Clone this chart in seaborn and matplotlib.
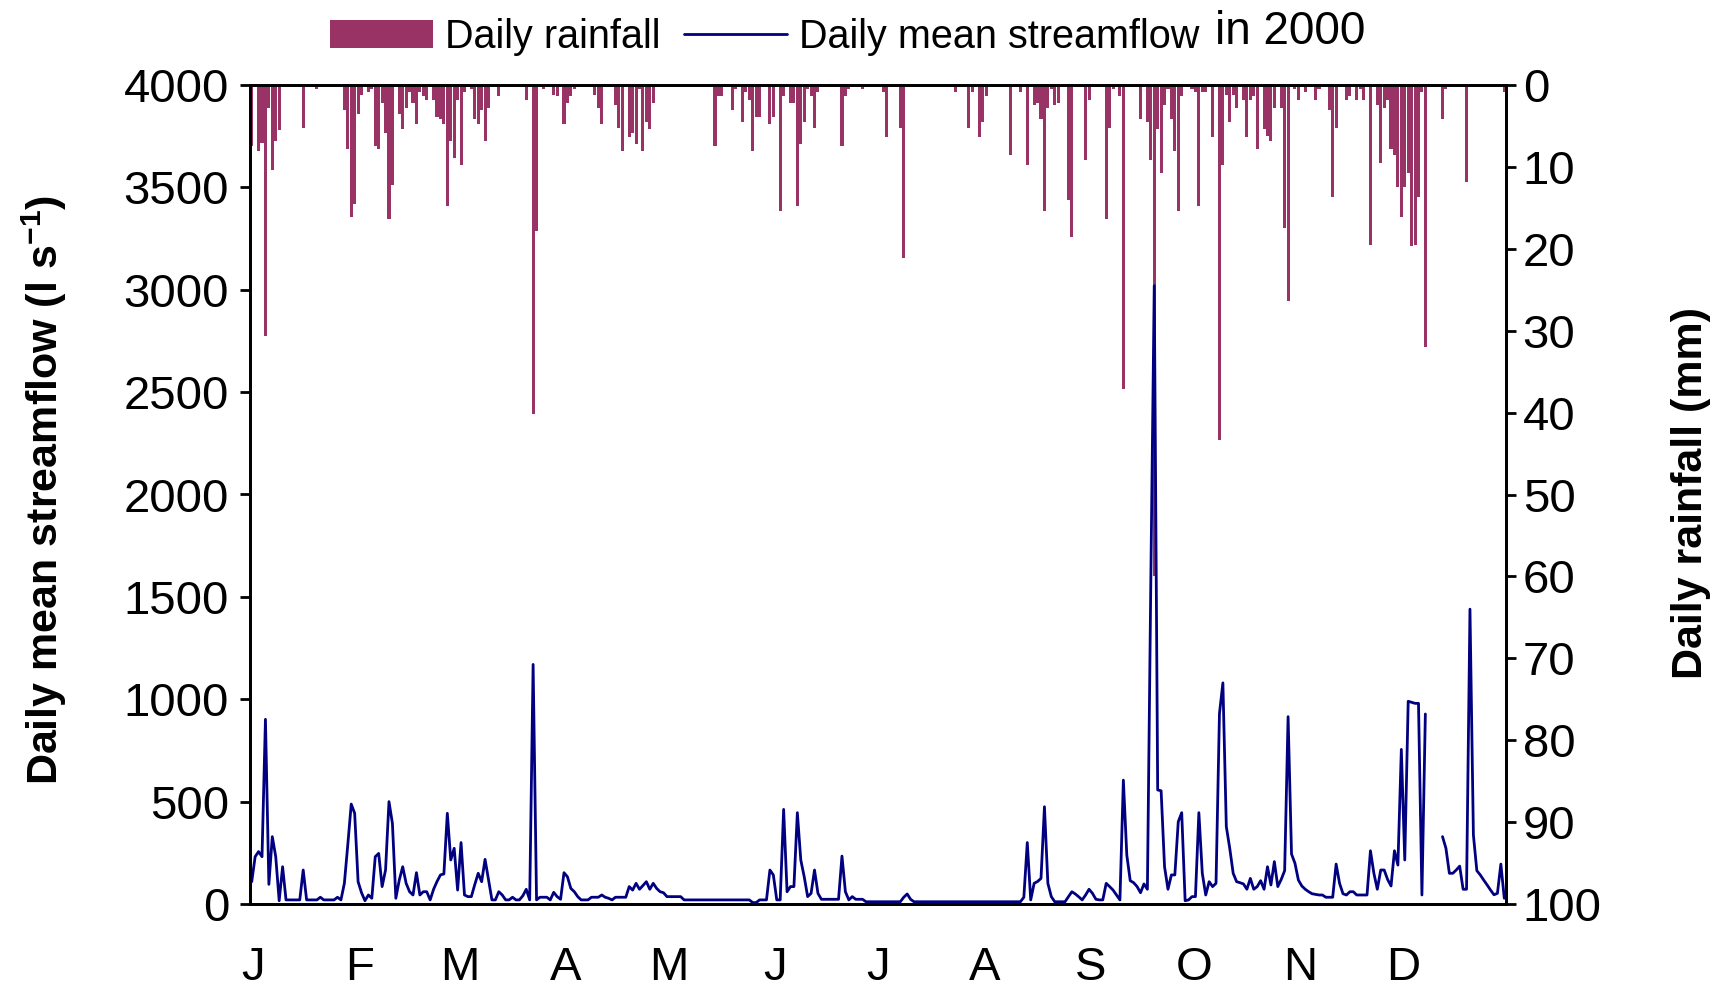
import numpy as np
import pandas as pd
import matplotlib
matplotlib.use("Agg")
import matplotlib.pyplot as plt
from matplotlib.patches import Patch
from matplotlib.lines import Line2D
import seaborn as sns

# ---------------- data ----------------
months = ["J", "F", "M", "A", "M", "J", "J", "A", "S", "O", "N", "D"]
month_days = [31, 29, 31, 30, 31, 30, 31, 31, 30, 31, 30, 31]

# Daily rainfall (mm), 2000
rain_jan = [7.5, 0, 8.1, 7.1, 30.7, 2.8, 10.4, 6.8, 5.5, 0, 0, 0.3, 0, 0, 0.3, 5.2, 0, 0, 0, 0.5,
            0.3, 0, 0, 0, 0.3, 0, 0.3, 3.1, 7.8, 16.1, 14.5]
rain_feb = [3.5, 1.2, 0, 0.8, 0.5, 7.5, 7.8, 2.2, 5.8, 16.4, 12.2, 0.2, 3.5, 5.4, 2.8, 0.8, 2.2,
            4.8, 0.8, 1.4, 1.8, 0.2, 1.8, 3.9, 4.1, 4.8, 14.8, 6.8, 8.9]
rain_mar = [1.8, 9.8, 0.8, 0.2, 0.5, 4.1, 4.8, 3.1, 6.8, 2.8, 0, 0, 1.4, 0, 0, 0.2, 0.2, 0, 0, 0,
            1.8, 0.3, 40.2, 17.8, 0, 0.5, 0, 0.2, 1.2, 1.4, 0]
rain_apr = [4.8, 2.2, 1.4, 0.5, 0, 0, 0, 0, 0, 1.2, 2.8, 4.8, 0, 0.2, 0, 2.5, 5.2, 8.1, 0, 6.4,
            5.8, 7.2, 0.5, 8.1, 4.5, 5.4, 2.2, 0.2, 0, 0]
rain_may = [0, 0, 0, 0, 0, 0, 0, 0, 0, 0, 0, 0, 0, 0, 7.5, 1.4, 1.4, 0.2, 0, 3.1, 0.5, 0, 4.5,
            0.8, 1.8, 8.1, 3.9, 3.9, 0.2, 0.2, 4.8]
rain_jun = [3.9, 0, 15.4, 1.4, 0, 2.2, 2.2, 14.8, 7.2, 4.5, 0.5, 1.4, 5.2, 0.8, 0.2, 0, 0, 0.2,
            0.2, 0, 7.5, 1.4, 0.5, 0, 0, 0, 0.5, 0, 0, 0]
rain_jul = [0, 0, 0.8, 6.4, 0, 0.2, 0.2, 5.2, 21.1, 0.2, 0, 0, 0, 0, 0, 0, 0, 0, 0, 0, 0, 0, 0,
            0.8, 0, 0.2, 0, 5.2, 0.8, 0, 6.4]
rain_aug = [4.5, 1.4, 0, 0.2, 0, 0.2, 0, 0, 8.5, 0, 0, 0.8, 0, 9.8, 0, 2.5, 2.2, 4.1, 15.4, 2.8,
            0.5, 2.5, 2.2, 0, 0.2, 14.1, 18.5, 0, 0, 0, 9.1]
rain_sep = [1.8, 0.2, 0, 0.2, 0, 16.4, 5.2, 0.5, 0, 1.4, 37.1, 0.2, 0, 0.2, 0, 4.1, 0, 4.5, 9.1,
            60.0, 5.4, 10.8, 2.5, 0.5, 4.1, 8.1, 15.4, 1.4, 0, 0]
rain_oct = [0.5, 0.8, 14.8, 0.8, 0.8, 0, 6.4, 0, 43.4, 9.8, 1.2, 4.5, 1.2, 2.8, 0, 1.8, 6.4, 1.8,
            1.4, 7.8, 0, 5.4, 6.2, 6.8, 2.8, 0.2, 2.8, 17.4, 26.4, 0, 0.5]
rain_nov = [1.8, 0, 0.8, 0, 0, 1.8, 0.5, 0.2, 0, 3.1, 13.7, 5.2, 0, 0, 1.8, 1.4, 0, 1.8, 0.5, 1.8,
            0, 19.5, 0.2, 2.5, 9.5, 2.8, 1.8, 7.8, 8.5, 12.4]
rain_dec = [16.1, 12.4, 10.8, 19.7, 19.5, 13.7, 0.8, 32.0, 0, 0, 0, 0, 4.1, 0.5, 0, 0, 0, 0, 0,
            11.8, 0, 0, 0, 0, 0, 0, 0, 0, 0, 0, 0.8]

# Daily mean streamflow (l/s), 2000  (nan = missing record)
nan = np.nan
flow_jan = [109, 231, 256, 231, 902, 96, 329, 231, 16, 182, 20, 20, 20, 20, 20, 166, 20, 20, 20,
            20, 33, 20, 20, 20, 20, 33, 20, 101, 290, 488, 443]
flow_feb = [109, 55, 16, 44, 28, 231, 247, 85, 166, 500, 394, 28, 117, 182, 101, 60, 44, 153, 44,
            60, 60, 20, 72, 110, 142, 147, 443, 215, 272]
flow_mar = [68, 300, 44, 36, 36, 95, 150, 109, 218, 120, 20, 20, 60, 44, 20, 20, 33, 20, 20, 40,
            72, 20, 1170, 20, 33, 33, 33, 20, 57, 36, 23]
flow_apr = [153, 133, 76, 60, 36, 20, 20, 20, 33, 33, 33, 44, 33, 28, 20, 33, 33, 33, 33, 85, 68,
            101, 72, 90, 109, 72, 101, 76, 60, 55]
flow_may = [36, 36, 36, 36, 36, 20, 20, 20, 20, 20, 20, 20, 20, 20, 20, 20, 20, 20, 20, 20, 20,
            20, 20, 20, 20, 7, 7, 20, 20, 20, 166]
flow_jun = [142, 20, 20, 462, 60, 85, 85, 446, 215, 133, 36, 52, 166, 52, 23, 23, 23, 23, 23, 23,
            234, 60, 20, 36, 23, 23, 23, 11, 11, 11]
flow_jul = [11, 11, 11, 11, 11, 11, 11, 11, 33, 49, 23, 11, 11, 11, 11, 11, 11, 11, 11, 11, 11,
            11, 11, 11, 11, 11, 11, 11, 11, 11, 11]
flow_aug = [11, 11, 11, 11, 11, 11, 11, 11, 11, 11, 11, 11, 33, 300, 20, 101, 110, 125, 475, 101,
            36, 11, 11, 11, 11, 36, 60, 49, 35, 20, 44]
flow_sep = [72, 52, 23, 20, 20, 101, 85, 68, 44, 20, 605, 239, 114, 104, 85, 55, 98, 72, 1580,
            3020, 557, 553, 182, 72, 142, 142, 402, 446, 16, 20]
flow_oct = [36, 36, 446, 150, 44, 109, 85, 101, 930, 1080, 378, 272, 150, 109, 104, 98, 72, 125,
            72, 85, 114, 72, 182, 93, 207, 85, 120, 163, 915, 244, 199]
flow_nov = [117, 88, 72, 60, 50, 47, 44, 44, 33, 33, 33, 195, 101, 50, 44, 60, 60, 44, 44, 44, 44,
            260, 150, 72, 166, 166, 120, 88, 260, 190]
flow_dec = [755, 215, 990, 985, 980, 980, 44, 928, nan, nan, nan, nan, 329, 272, 150, 150, 166,
            185, 72, 72, 1440, 337, 163, 142, 117, 93, 68, 45, 52, 195, 28]

# ---------------- assemble ----------------
rain = np.concatenate([rain_jan, rain_feb, rain_mar, rain_apr, rain_may, rain_jun,
                       rain_jul, rain_aug, rain_sep, rain_oct, rain_nov, rain_dec]).astype(float)
flow = np.concatenate([flow_jan, flow_feb, flow_mar, flow_apr, flow_may, flow_jun,
                       flow_jul, flow_aug, flow_sep, flow_oct, flow_nov, flow_dec]).astype(float)
n_days = sum(month_days)
assert len(rain) == n_days and len(flow) == n_days, (len(rain), len(flow))

day = np.arange(n_days)
seg = np.cumsum(np.isnan(flow)).astype(int)  # split line at missing records
df = pd.DataFrame({"x": day + 0.5, "rain": rain, "flow": flow, "seg": seg})
df_flow = df.dropna(subset=["flow"])
month_start = np.concatenate([[0], np.cumsum(month_days)[:-1]])

# ---------------- style ----------------
sns.set_style("ticks")
plt.rcParams["font.family"] = ["Liberation Sans", "DejaVu Sans"]
plt.rcParams["mathtext.fontset"] = "custom"
plt.rcParams["mathtext.rm"] = "Liberation Sans"
plt.rcParams["mathtext.bf"] = "Liberation Sans:bold"
for key in ["axes.edgecolor", "text.color", "xtick.color", "ytick.color", "axes.labelcolor"]:
    plt.rcParams[key] = "black"

RAIN_C = "#993366"
FLOW_C = "#000080"

W, H = 1718, 988
fig = plt.figure(figsize=(W / 100, H / 100), dpi=100)
ax1 = fig.add_axes([250 / W, 1 - 904 / H, 1256 / W, 819 / H])
ax2 = ax1.twinx()

sns.barplot(data=df, x="x", y="rain", ax=ax2, native_scale=True, color=RAIN_C,
            saturation=1, width=0.9, linewidth=0, errorbar=None)
sns.lineplot(data=df_flow, x="x", y="flow", units="seg", estimator=None, ax=ax1,
             color=FLOW_C, linewidth=2.0)

ax1.set_zorder(ax2.get_zorder() + 1)
ax1.patch.set_visible(False)

ax1.set_xlim(0, n_days)
ax1.set_ylim(0, 4000)
ax2.set_ylim(100, 0)

ax1.set_yticks(np.arange(0, 4001, 500))
ax2.set_yticks(np.arange(0, 101, 10))
ax1.set_xticks(month_start + 1)
ax1.set_xticklabels(months)

ax1.tick_params(axis="y", direction="out", length=7, width=2, labelsize=34, pad=8,
                colors="black")
ax2.tick_params(axis="y", direction="out", length=7, width=2, labelsize=34, pad=5,
                colors="black")
ax1.tick_params(axis="x", length=0, labelsize=34, pad=30, colors="black")

for a in (ax1, ax2):
    for sp in a.spines.values():
        sp.set_linewidth(2)
        sp.set_color("black")
        sp.set_visible(True)

ax1.set_xlabel("")
ax1.set_ylabel("")
ax2.set_ylabel("")

fig.text(44 / W, 1 - 490 / H, r"Daily mean streamflow (l s$^{\mathbf{-1}}$)", rotation=90,
         ha="center", va="center", fontsize=31, fontweight="bold")
fig.text(1691 / W, 1 - 493 / H, "Daily rainfall (mm)", rotation=90,
         ha="center", va="center", fontsize=31, fontweight="bold")

handles = [Patch(facecolor=RAIN_C, edgecolor="none"),
           Line2D([], [], color=FLOW_C, linewidth=2.0)]
fig.legend(handles, ["Daily rainfall", "Daily mean streamflow"], loc="center",
           bbox_to_anchor=(0.445, 0.963), ncol=2, frameon=False, fontsize=28.5,
           handlelength=2.6, handletextpad=0.3, columnspacing=0.6, borderaxespad=0,
           borderpad=0)
fig.text(0.751, 0.968, "in 2000", fontsize=33, ha="center", va="center")

fig.savefig("out.png", dpi=100)
